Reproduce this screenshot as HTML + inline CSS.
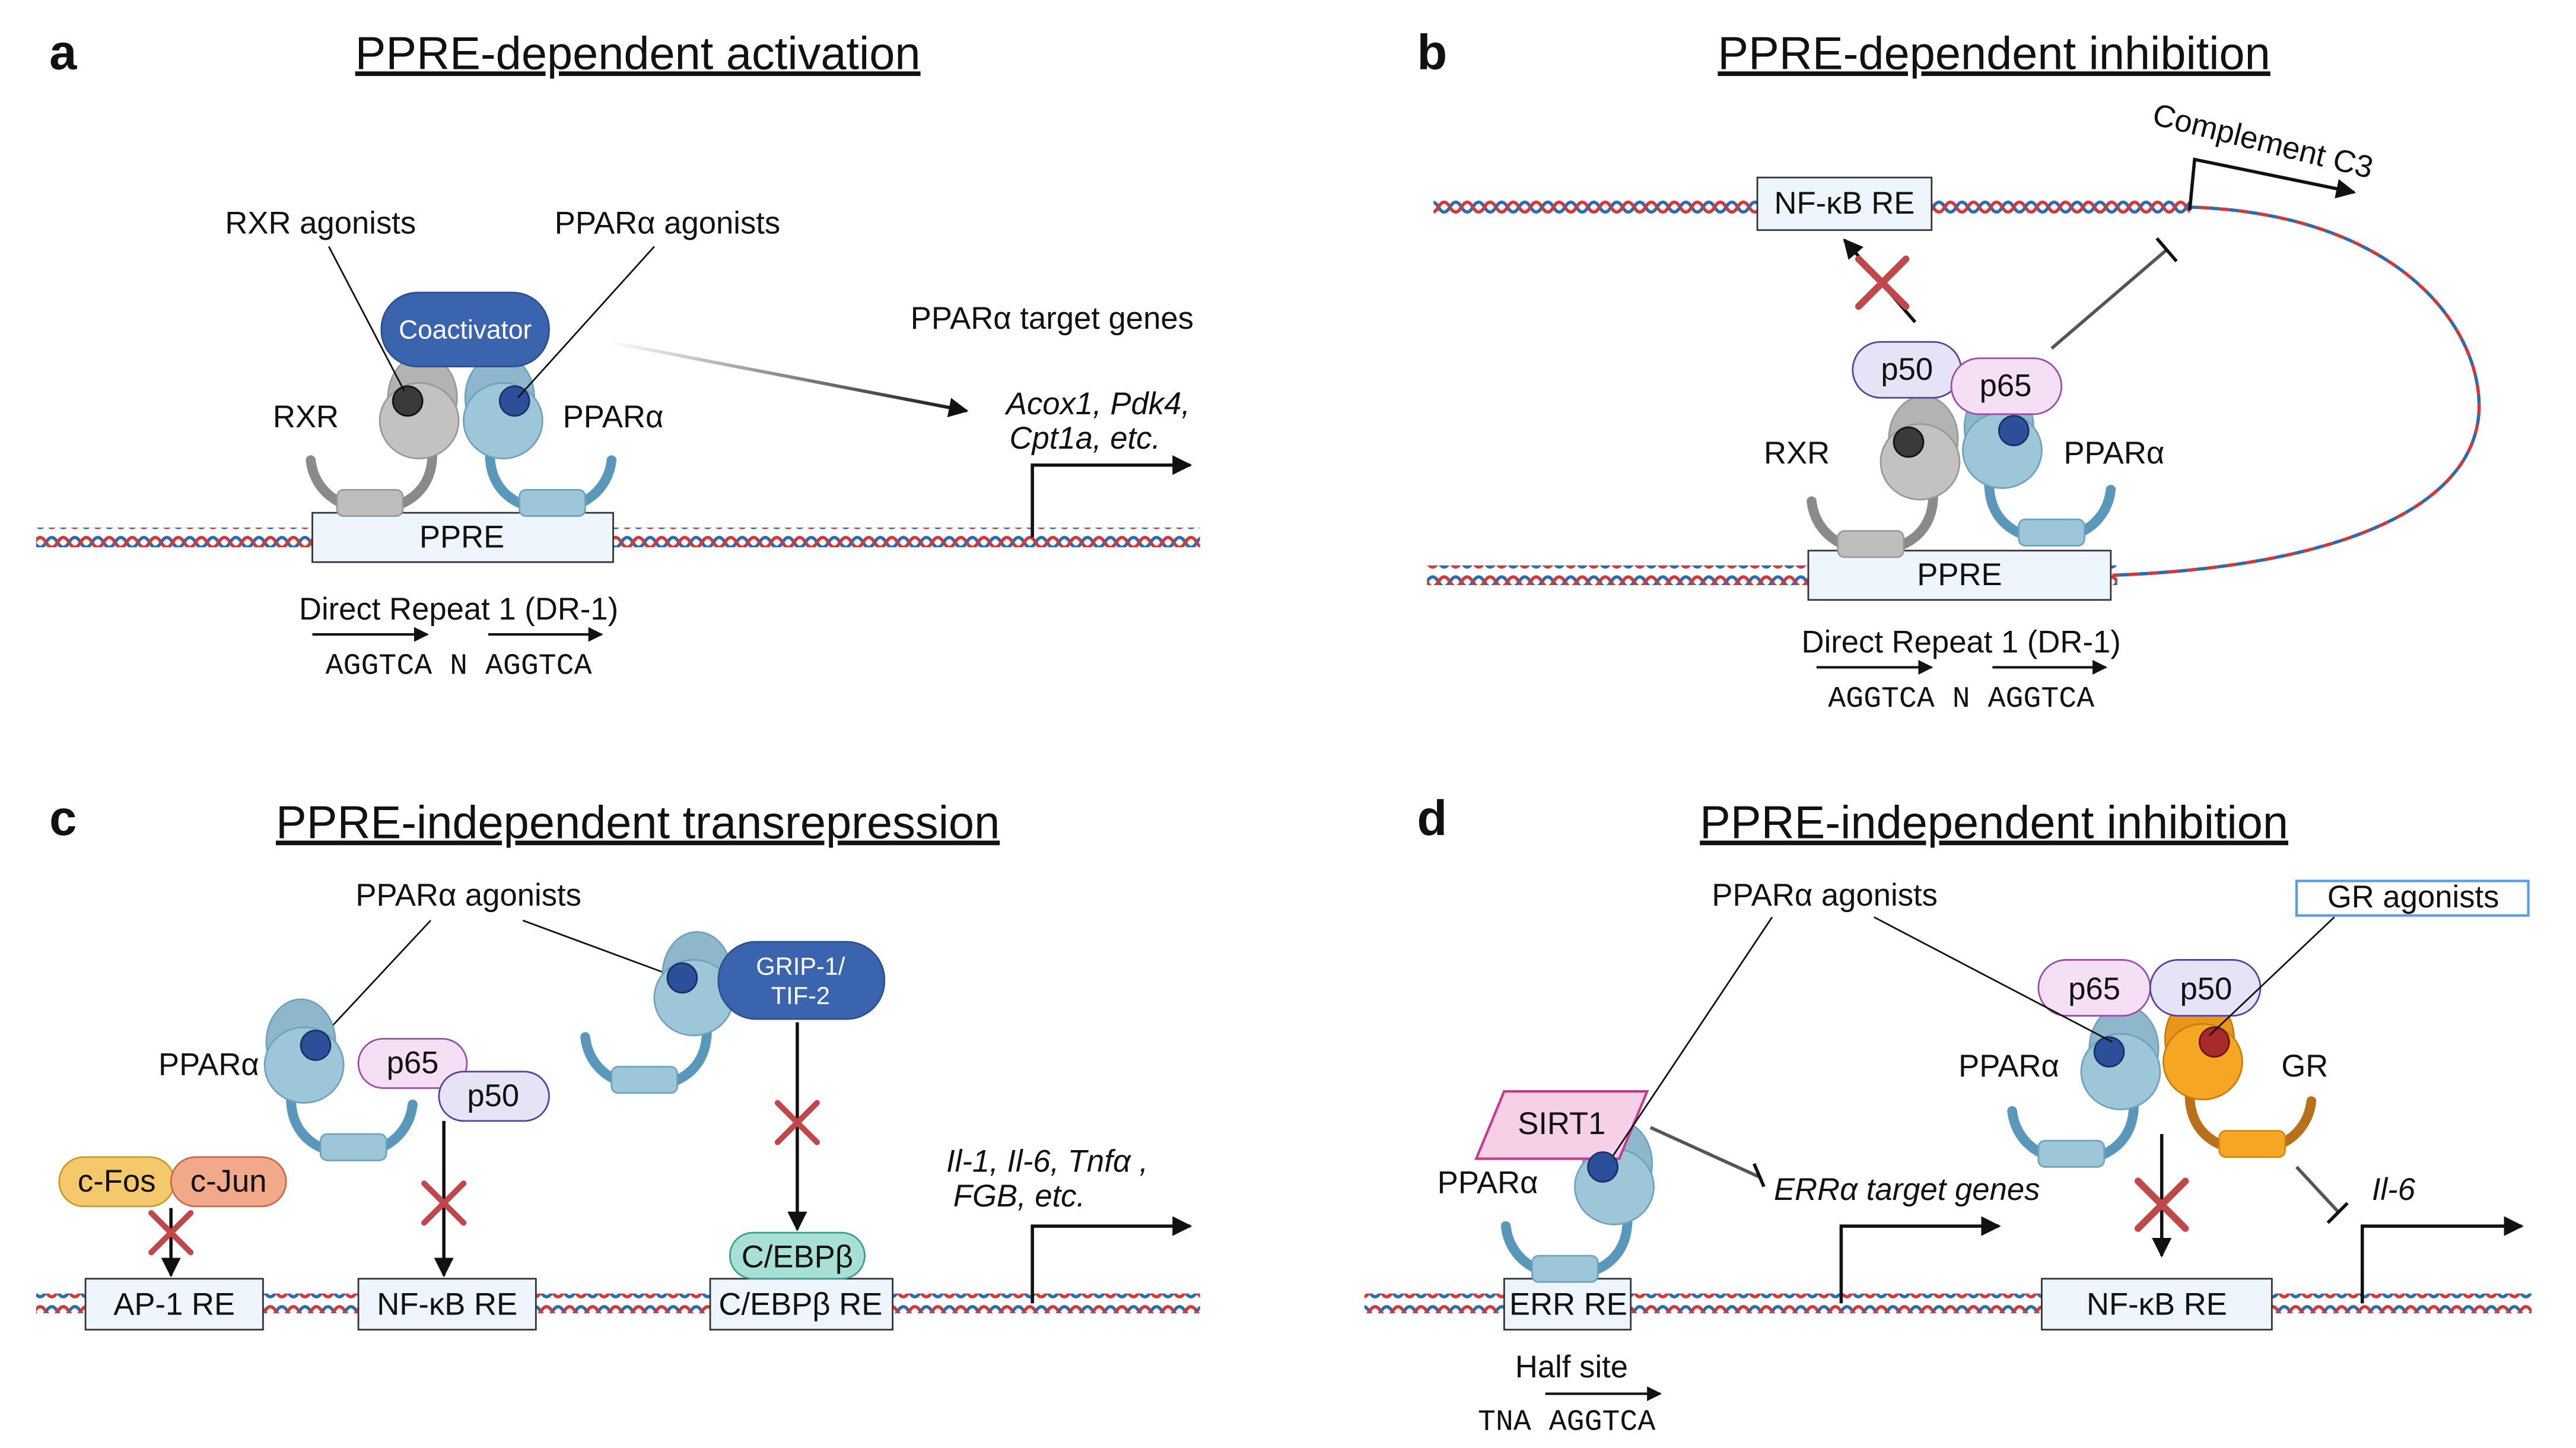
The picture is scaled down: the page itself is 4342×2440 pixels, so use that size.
<!DOCTYPE html>
<html><head><meta charset="utf-8"><style>
html,body{margin:0;padding:0;background:#fff;}
svg{display:block;}
text{font-family:"Liberation Sans",Arial,sans-serif;fill:#111;}
.t{font-size:19px;}
.ti{font-size:19px;font-style:italic;}
.h{font-size:28px;text-decoration:underline;}
.L{font-size:30px;font-weight:bold;}
.m{font-family:"Liberation Mono",monospace;font-size:18px;}
</style></head><body>
<svg width="4342" height="2440" viewBox="0 0 1567 881" preserveAspectRatio="none" xmlns="http://www.w3.org/2000/svg">
<defs>
<pattern id="dna" x="0" y="0" width="14" height="12" patternUnits="userSpaceOnUse">
<path d="M0 6 Q3.5 0 7 6 T14 6" fill="none" stroke="#2d6bb0" stroke-width="2"/>
<path d="M0 6 Q3.5 12 7 6 T14 6" fill="none" stroke="#d0383a" stroke-width="2"/>
</pattern>
<marker id="ar" viewBox="0 0 10 10" refX="9" refY="5" markerWidth="6" markerHeight="6" orient="auto"><path d="M0 0L10 5L0 10z" fill="#111"/></marker>
<linearGradient id="gr1" x1="0" x2="1"><stop offset="0" stop-color="#fff"/><stop offset="1" stop-color="#111"/></linearGradient>
<g id="ppar">
<path d="M-8 26 C-8 50 10 60 29 60 C49 60 64 48 66 30" fill="none" stroke="#5a98bb" stroke-width="6" stroke-linecap="round"/>
<rect x="10" y="48" width="40" height="16" rx="4" fill="#9dc6d8" stroke="#6fa3bd"/>
<ellipse cx="-2" cy="-8" rx="21" ry="26" fill="#8fb7cb" stroke="#6fa3bd"/>
<ellipse cx="0" cy="6" rx="24" ry="23" fill="#9dc6d8" stroke="#6fa3bd"/>
<circle cx="7" cy="-6" r="9" fill="#2c4f9a" stroke="#1a2f66"/>
</g>
<g id="rxr">
<path d="M-8 26 C-8 50 10 60 29 60 C49 60 64 48 66 30" fill="none" stroke="#8a8a8a" stroke-width="6" stroke-linecap="round"/>
<rect x="10" y="48" width="40" height="16" rx="4" fill="#bdbdbd" stroke="#999"/>
<ellipse cx="-2" cy="-8" rx="21" ry="26" fill="#b3b3b3" stroke="#999"/>
<ellipse cx="0" cy="6" rx="24" ry="23" fill="#c2c2c2" stroke="#999"/>
<circle cx="7" cy="-6" r="9" fill="#3a3a3a" stroke="#111"/>
</g>
<g id="gr">
<path d="M-8 26 C-8 50 10 60 29 60 C49 60 64 48 66 30" fill="none" stroke="#b8711a" stroke-width="6" stroke-linecap="round"/>
<rect x="10" y="48" width="40" height="16" rx="4" fill="#f5a623" stroke="#d48a10"/>
<ellipse cx="-2" cy="-8" rx="21" ry="26" fill="#e8961a" stroke="#c77d10"/>
<ellipse cx="0" cy="6" rx="24" ry="23" fill="#f5a623" stroke="#c77d10"/>
<circle cx="7" cy="-6" r="9" fill="#a82b2b" stroke="#6a1414"/>
</g>
<g id="x"><path d="M-12 -12L12 12M12 -12L-12 12" stroke="#c0484a" stroke-width="3.5" stroke-linecap="round"/></g>
</defs>

<!-- PANEL A -->
<text x="30" y="42" class="L">a</text>
<text x="388" y="42" class="h" text-anchor="middle">PPRE-dependent activation</text>
<rect x="22" y="321" width="708" height="12" fill="url(#dna)"/>
<rect x="190" y="312" width="183" height="30" fill="#eef5fc" stroke="#333"/>
<text x="281" y="333" class="t" text-anchor="middle">PPRE</text>
<use href="#rxr" transform="translate(255,250) scale(-1,1)"/>
<use href="#ppar" transform="translate(306,250)"/>
<rect x="232" y="178" width="102" height="45" rx="22" fill="#3a64ad" stroke="#2d5091"/>
<text x="283" y="206" text-anchor="middle" style="font-size:16px;fill:#fff">Coactivator</text>
<text x="195" y="142" class="t" text-anchor="middle">RXR agonists</text>
<line x1="200" y1="150" x2="246" y2="238" stroke="#111"/>
<text x="406" y="142" class="t" text-anchor="middle">PPARα agonists</text>
<line x1="398" y1="150" x2="315" y2="242" stroke="#111"/>
<text x="186" y="260" class="t" text-anchor="middle">RXR</text>
<text x="373" y="260" class="t" text-anchor="middle">PPARα</text>
<path d="M370 208 L588 250" stroke="url(#gr1)" stroke-width="2" marker-end="url(#ar)"/>
<text x="640" y="200" class="t" text-anchor="middle">PPARα target genes</text>
<text x="668" y="252" class="ti" text-anchor="middle">Acox1, Pdk4,</text>
<text x="660" y="273" class="ti" text-anchor="middle">Cpt1a, etc.</text>
<path d="M628 327 V283 H724" fill="none" stroke="#111" stroke-width="2" marker-end="url(#ar)"/>
<text x="279" y="377" class="t" text-anchor="middle">Direct Repeat 1 (DR-1)</text>
<line x1="190" y1="386" x2="260" y2="386" stroke="#111" stroke-width="1.5" marker-end="url(#ar)"/>
<line x1="297" y1="386" x2="366" y2="386" stroke="#111" stroke-width="1.5" marker-end="url(#ar)"/>
<text x="279" y="410" class="m" text-anchor="middle">AGGTCA N AGGTCA</text>

<!-- PANEL B -->
<text x="862" y="42" class="L">b</text>
<text x="1213" y="42" class="h" text-anchor="middle">PPRE-dependent inhibition</text>
<rect x="872" y="120" width="460" height="12" fill="url(#dna)"/>
<rect x="868" y="344" width="420" height="12" fill="url(#dna)"/>
<path d="M1332 126 C1460 130 1510 200 1508 250 C1505 310 1420 345 1285 350" fill="none" stroke="#2d6bb0" stroke-width="2" stroke-dasharray="6 6"/>
<path d="M1332 126 C1460 130 1510 200 1508 250 C1505 310 1420 345 1285 350" fill="none" stroke="#d0383a" stroke-width="2" stroke-dasharray="6 6" stroke-dashoffset="6"/>
<rect x="1069" y="108" width="106" height="32" fill="#eef5fc" stroke="#333"/>
<text x="1122" y="130" class="t" text-anchor="middle">NF-κB RE</text>
<rect x="1100" y="335" width="184" height="30" fill="#eef5fc" stroke="#333"/>
<text x="1192" y="356" class="t" text-anchor="middle">PPRE</text>
<text x="1375" y="92" class="t" text-anchor="middle" transform="rotate(14 1375 92)">Complement C3</text>
<path d="M1332 128 L1335 97 L1432 117" fill="none" stroke="#111" stroke-width="2" marker-end="url(#ar)"/>
<line x1="1165" y1="196" x2="1122" y2="146" stroke="#111" stroke-width="2" marker-end="url(#ar)"/>
<use href="#x" transform="translate(1145,172) scale(1.2)"/>
<line x1="1248" y1="212" x2="1318" y2="152" stroke="#555" stroke-width="2"/>
<line x1="1312" y1="145" x2="1324" y2="159" stroke="#111" stroke-width="2"/>
<use href="#rxr" transform="translate(1168,275) scale(-1,1)"/>
<use href="#ppar" transform="translate(1218,268)"/>
<rect x="1127" y="208" width="66" height="34" rx="17" fill="#e5e4f7" stroke="#5a3f9c"/>
<text x="1160" y="231" class="t" text-anchor="middle">p50</text>
<rect x="1187" y="218" width="67" height="34" rx="17" fill="#f5dff5" stroke="#9a4fa6"/>
<text x="1220" y="241" class="t" text-anchor="middle">p65</text>
<text x="1093" y="282" class="t" text-anchor="middle">RXR</text>
<text x="1286" y="282" class="t" text-anchor="middle">PPARα</text>
<text x="1193" y="397" class="t" text-anchor="middle">Direct Repeat 1 (DR-1)</text>
<line x1="1105" y1="406" x2="1175" y2="406" stroke="#111" stroke-width="1.5" marker-end="url(#ar)"/>
<line x1="1212" y1="406" x2="1281" y2="406" stroke="#111" stroke-width="1.5" marker-end="url(#ar)"/>
<text x="1193" y="430" class="m" text-anchor="middle">AGGTCA N AGGTCA</text>

<!-- PANEL C -->
<text x="30" y="508" class="L">c</text>
<text x="388" y="510" class="h" text-anchor="middle">PPRE-independent transrepression</text>
<rect x="22" y="787" width="708" height="12" fill="url(#dna)"/>
<rect x="52" y="778" width="108" height="31" fill="#eef5fc" stroke="#333"/>
<text x="106" y="800" class="t" text-anchor="middle">AP-1 RE</text>
<rect x="218" y="778" width="108" height="31" fill="#eef5fc" stroke="#333"/>
<text x="272" y="800" class="t" text-anchor="middle">NF-κB RE</text>
<rect x="432" y="778" width="111" height="31" fill="#eef5fc" stroke="#333"/>
<text x="487" y="800" class="t" text-anchor="middle">C/EBPβ RE</text>
<text x="285" y="551" class="t" text-anchor="middle">PPARα agonists</text>
<line x1="262" y1="560" x2="193" y2="634" stroke="#111"/>
<line x1="318" y1="560" x2="410" y2="594" stroke="#111"/>
<use href="#ppar" transform="translate(185,642)"/>
<text x="127" y="654" class="t" text-anchor="middle">PPARα</text>
<rect x="218" y="632" width="66" height="30" rx="15" fill="#f5dff5" stroke="#9a4fa6"/>
<text x="251" y="653" class="t" text-anchor="middle">p65</text>
<rect x="267" y="652" width="67" height="30" rx="15" fill="#e5e4f7" stroke="#5a3f9c"/>
<text x="300" y="673" class="t" text-anchor="middle">p50</text>
<rect x="36" y="704" width="70" height="30" rx="15" fill="#f4c96b" stroke="#c99a2e"/>
<text x="71" y="725" class="t" text-anchor="middle">c-Fos</text>
<rect x="104" y="704" width="70" height="30" rx="15" fill="#f2a98a" stroke="#c7694a"/>
<text x="139" y="725" class="t" text-anchor="middle">c-Jun</text>
<line x1="104" y1="735" x2="104" y2="776" stroke="#111" stroke-width="2" marker-end="url(#ar)"/>
<use href="#x" transform="translate(104,750)"/>
<line x1="270" y1="682" x2="270" y2="776" stroke="#111" stroke-width="2" marker-end="url(#ar)"/>
<use href="#x" transform="translate(270,732)"/>
<use href="#ppar" transform="translate(422,601) scale(-1,1)"/>
<rect x="437" y="573" width="101" height="47" rx="23" fill="#3a64ad" stroke="#2d5091"/>
<text x="487" y="593" text-anchor="middle" style="font-size:15px;fill:#fff">GRIP-1/</text>
<text x="487" y="611" text-anchor="middle" style="font-size:15px;fill:#fff">TIF-2</text>
<line x1="485" y1="622" x2="485" y2="748" stroke="#111" stroke-width="2" marker-end="url(#ar)"/>
<use href="#x" transform="translate(485,683)"/>
<rect x="444" y="750" width="82" height="28" rx="14" fill="#a8e0d6" stroke="#3c9d8c"/>
<text x="485" y="771" class="t" text-anchor="middle">C/EBPβ</text>
<text x="637" y="713" class="ti" text-anchor="middle">Il-1, Il-6, Tnfα ,</text>
<text x="620" y="734" class="ti" text-anchor="middle">FGB, etc.</text>
<path d="M628 793 V746 H724" fill="none" stroke="#111" stroke-width="2" marker-end="url(#ar)"/>

<!-- PANEL D -->
<text x="862" y="508" class="L">d</text>
<text x="1213" y="510" class="h" text-anchor="middle">PPRE-independent inhibition</text>
<rect x="830" y="787" width="710" height="12" fill="url(#dna)"/>
<rect x="915" y="778" width="77" height="31" fill="#eef5fc" stroke="#333"/>
<text x="954" y="800" class="t" text-anchor="middle">ERR RE</text>
<rect x="1242" y="778" width="140" height="31" fill="#eef5fc" stroke="#333"/>
<text x="1312" y="800" class="t" text-anchor="middle">NF-κB RE</text>
<text x="1110" y="551" class="t" text-anchor="middle">PPARα agonists</text>
<rect x="1397" y="536" width="141" height="21" fill="none" stroke="#5a9ae6" stroke-width="1.5"/>
<text x="1468" y="552" class="t" text-anchor="middle">GR agonists</text>
<use href="#ppar" transform="translate(982,716) scale(-1,1)"/>
<path d="M915 664 H1002 L985 705 H898 Z" fill="#f5d0e6" stroke="#c7388f" stroke-width="1.5"/>
<text x="950" y="690" class="t" text-anchor="middle">SIRT1</text>
<line x1="1078" y1="558" x2="978" y2="708" stroke="#111"/>
<circle cx="975" cy="710" r="9" fill="#2c4f9a" stroke="#1a2f66"/>
<text x="905" y="726" class="t" text-anchor="middle">PPARα</text>
<line x1="1004" y1="686" x2="1070" y2="716" stroke="#555" stroke-width="2"/>
<line x1="1067" y1="708" x2="1073" y2="722" stroke="#111" stroke-width="2"/>
<text x="1160" y="730" class="ti" text-anchor="middle">ERRα target genes</text>
<path d="M1120 793 V746 H1216" fill="none" stroke="#111" stroke-width="2" marker-end="url(#ar)"/>
<text x="956" y="838" class="t" text-anchor="middle">Half site</text>
<line x1="940" y1="848" x2="1010" y2="848" stroke="#111" stroke-width="1.5" marker-end="url(#ar)"/>
<text x="953" y="870" class="m" text-anchor="middle">TNA AGGTCA</text>
<use href="#ppar" transform="translate(1290,646) scale(-1,1)"/>
<use href="#gr" transform="translate(1340,640)"/>
<rect x="1240" y="584" width="68" height="34" rx="17" fill="#f5dff5" stroke="#9a4fa6"/>
<text x="1274" y="608" class="t" text-anchor="middle">p65</text>
<rect x="1308" y="584" width="67" height="34" rx="17" fill="#e5e4f7" stroke="#5a3f9c"/>
<text x="1342" y="608" class="t" text-anchor="middle">p50</text>
<line x1="1140" y1="558" x2="1285" y2="634" stroke="#111"/>
<line x1="1420" y1="558" x2="1344" y2="630" stroke="#111"/>
<text x="1222" y="655" class="t" text-anchor="middle">PPARα</text>
<text x="1402" y="655" class="t" text-anchor="middle">GR</text>
<line x1="1315" y1="690" x2="1315" y2="764" stroke="#111" stroke-width="2" marker-end="url(#ar)"/>
<use href="#x" transform="translate(1315,733) scale(1.2)"/>
<line x1="1397" y1="710" x2="1423" y2="738" stroke="#555" stroke-width="2"/>
<line x1="1416" y1="744" x2="1428" y2="732" stroke="#111" stroke-width="2"/>
<text x="1456" y="730" class="ti" text-anchor="middle">Il-6</text>
<path d="M1437 793 V746 H1534" fill="none" stroke="#111" stroke-width="2" marker-end="url(#ar)"/>
</svg>
</body></html>
